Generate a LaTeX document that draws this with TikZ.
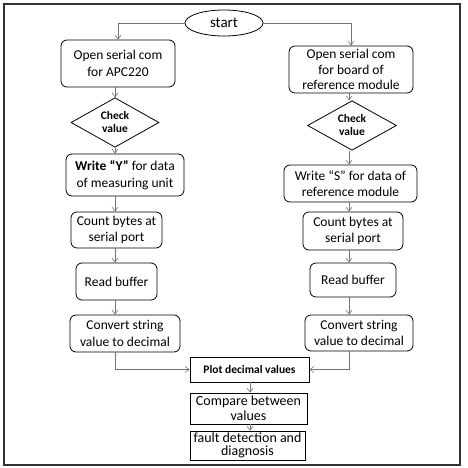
\documentclass[tikz,border=0pt]{standalone}
\usepackage{fontspec}
\setmainfont{Carlito}
\usetikzlibrary{arrows.meta,shapes.geometric}

\begin{document}
\begin{tikzpicture}[x=1pt, y=-1pt,
    every node/.style={font=\fontsize{13.5}{16.5}\selectfont, align=center},
    proc/.style={draw, rounded corners=6pt, line width=0.8pt, inner sep=1pt},
    plainbox/.style={draw, line width=0.8pt, inner sep=1pt},
    check/.style={draw, diamond, line width=0.8pt, inner sep=0pt,
      font=\fontsize{11.5}{13}\selectfont\bfseries},
    arr/.style={draw=black!55, line width=0.6pt, -{Straight Barb[length=4pt,width=6pt]}}]
  \useasboundingbox (0,0) rectangle (468,468);
  \draw[line width=1.1pt, black!80] (4,4) rectangle (460,465);
  % columns of the connectors
  \coordinate (lc) at (115,0);
  \coordinate (rc) at (349,0);
  \coordinate (mc) at (250,0);

  \node[draw, ellipse, line width=0.8pt, inner sep=0pt, font=\fontsize{15}{17}\selectfont,
    minimum width=78pt, minimum height=26pt] (start) at (224,23) {start};

  % left branch
  \node[proc, minimum width=114pt, minimum height=47pt] (lopen) at (118,63.5)
    {Open serial com\\for APC220};
  \node[check, minimum width=88pt, minimum height=29pt] (lcheck) at (115,122.5)
    {Check\\value};
  \node[proc, minimum width=118pt, minimum height=42pt] (lwrite) at (125,175)
    {\textbf{Write “Y”} for data\\of measuring unit};
  \node[proc, minimum width=91pt, minimum height=36pt] (lcount) at (116.5,230)
    {Count bytes at\\serial port};
  \node[proc, minimum width=81pt, minimum height=37pt] (lread) at (116.5,281.5)
    {Read buffer};
  \node[proc, minimum width=110pt, minimum height=37pt] (lconv) at (125,333.5)
    {Convert string\\value to decimal};

  % right branch
  \node[proc, minimum width=124pt, minimum height=47pt, inner sep=0pt,
    font=\fontsize{13.5}{15.5}\selectfont] (ropen) at (351,69.5)
    {Open serial com\\for board of\\reference module};
  \node[check, minimum width=89pt, minimum height=35pt] (rcheck) at (352,125.5)
    {Check\\value};
  \node[proc, minimum width=133pt, minimum height=37pt] (rwrite) at (350.5,183.5)
    {Write “S” for data of\\reference module};
  \node[proc, minimum width=100pt, minimum height=38pt] (rcount) at (353,231)
    {Count bytes at\\serial port};
  \node[proc, minimum width=86pt, minimum height=34pt] (rread) at (353,280)
    {Read buffer};
  \node[proc, minimum width=108pt, minimum height=36pt] (rconv) at (359,333)
    {Convert string\\value to decimal};

  % joined part
  \node[plainbox, minimum width=119pt, minimum height=25pt,
    font=\fontsize{11.5}{13}\selectfont\bfseries] (plot) at (249.5,369.5)
    {Plot decimal values};
  \node[plainbox, minimum width=117pt, minimum height=31pt,
    font=\fontsize{14}{15}\selectfont] (compare) at (248.5,408.5)
    {Compare between\\values};
  \node[plainbox, minimum width=115pt, minimum height=29pt, inner sep=0pt,
    font=\fontsize{14}{13}\selectfont] (fault) at (247.5,445.5)
    {fault detection and\\diagnosis};

  \draw[arr] (start.west) -| (lopen.north);
  \draw[arr] (start.east) -| (ropen.north);
  \foreach \a/\b in {lopen/lcheck, lcheck/lwrite, lwrite/lcount, lcount/lread, lread/lconv}
    \draw[arr] (\a.south -| lc) -- (\b.north -| lc);
  \foreach \a/\b in {ropen/rcheck, rcheck/rwrite, rwrite/rcount, rcount/rread, rread/rconv}
    \draw[arr] (\a.south -| rc) -- (\b.north -| rc);
  \draw[arr] (lconv.south -| lc) |- (plot.west);
  \draw[arr] (rconv.south -| rc) |- (plot.east);
  \draw[arr] (plot.south -| mc) -- (compare.north -| mc);
  \draw[arr] (compare.south -| mc) -- (fault.north -| mc);
\end{tikzpicture}
\end{document}
